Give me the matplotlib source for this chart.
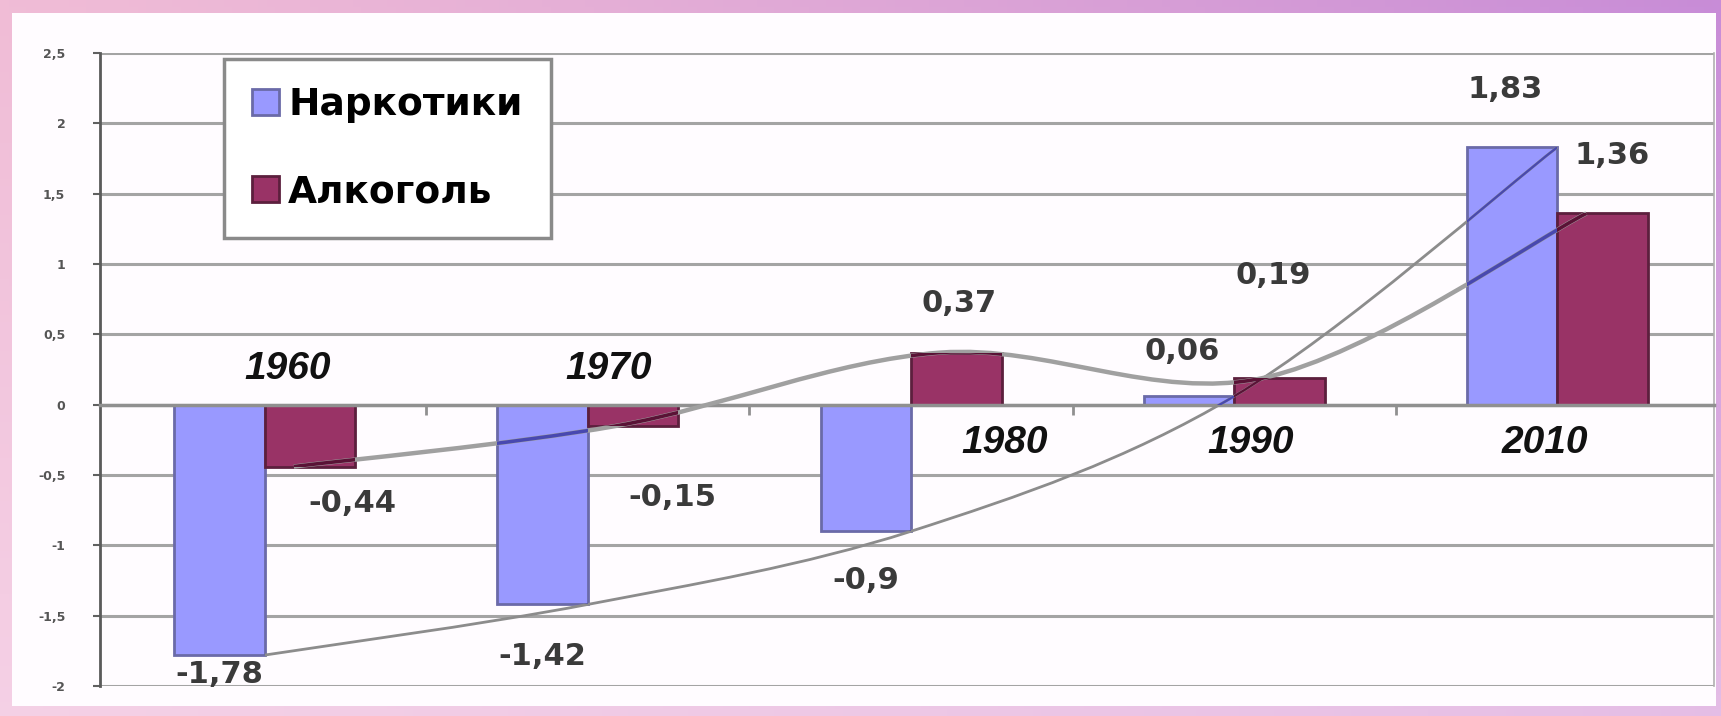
import numpy as np
import matplotlib
matplotlib.use('Agg')
import matplotlib.pyplot as plt
from matplotlib.path import Path
from matplotlib.patches import PathPatch, Rectangle

# data
years = ['1960', '1970', '1980', '1990', '2010']
narco = [-1.78, -1.42, -0.9, 0.06, 1.83]
alco = [-0.44, -0.15, 0.37, 0.19, 1.36]
series_names = ['Наркотики', 'Алкоголь']
yticks = [2.5, 2, 1.5, 1, 0.5, 0, -0.5, -1, -1.5, -2]
ytick_labels = ['2,5', '2', '1,5', '1', '0,5', '0', '-0,5', '-1', '-1,5', '-2']

# label placement (offsets from bar end, in data units)
narco_lbl_dx = [0.0, 0.0, 0.0, -0.02, -0.02]
narco_lbl_dy = [-0.14, -0.37, -0.35, 0.32, 0.41]
alco_lbl_dx = [0.13, 0.12, 0.01, -0.02, 0.03]
alco_lbl_dy = [-0.26, -0.51, 0.35, 0.73, 0.41]
year_x = [0.07, 1.065, 2.29, 3.05, 3.96]
year_y = [0.255, 0.255, -0.275, -0.275, -0.275]

W, H = 1721, 716
fig = plt.figure(figsize=(W / 100, H / 100), dpi=100)

# slide background gradient
bg = fig.add_axes([0, 0, 1, 1])
gx = np.linspace(0, 1, 200)[None, :]
gy = np.linspace(0, 1, 100)[:, None]
c_left = np.array([240, 188, 214]) / 255
c_right = np.array([200, 140, 215]) / 255
c_bottom = np.array([248, 222, 240]) / 255
t = gx ** 1.2
img = (1 - t)[..., None] * c_left + t[..., None] * c_right
img = img * (1 - gy[..., None] * 0.6) + c_bottom * gy[..., None] * 0.6
bg.imshow(img, extent=[0, 1, 0, 1], aspect='auto', origin='upper')
bg.add_patch(Rectangle((12 / W, 10 / H), (1716 - 12) / W, (703 - 10) / H,
                       facecolor='#fffcff', edgecolor='none'))
bg.set_xlim(0, 1)
bg.set_ylim(0, 1)
bg.axis('off')

ax = fig.add_axes([100 / W, 30 / H, 1614 / W, 633 / H])
ax.set_facecolor('none')
x = np.arange(len(years))
w = 0.28

bars_n = ax.bar(x - w / 2, narco, w, color='#9999ff', edgecolor='#6a6aa8',
                linewidth=2, zorder=2, label=series_names[0])
bars_a = ax.bar(x + w / 2, alco, w, color='#993366', edgecolor='#5c1f3d',
                linewidth=2, zorder=2, label=series_names[1])


def smooth_path(xs, ys):
    # Catmull-Rom through the points, written as cubic Bezier segments
    pts = np.column_stack([xs, ys]).astype(float)
    ext = np.vstack([pts[0], pts, pts[-1]])
    verts = [pts[0]]
    codes = [Path.MOVETO]
    for i in range(len(pts) - 1):
        p0, p1, p2, p3 = ext[i], ext[i + 1], ext[i + 2], ext[i + 3]
        verts += [p1 + (p2 - p0) / 6, p2 - (p3 - p1) / 6, p2]
        codes += [Path.CURVE4] * 3
    return Path(verts, codes)


for xs, vals, lw, col0 in [(x, narco, 2.0, '#8c8c8c'), (x + w / 2 - 0.05, alco, 3.2, '#a0a0a0')]:
    p = smooth_path(xs, vals)
    ax.add_patch(PathPatch(p, facecolor='none', edgecolor=col0, lw=lw, zorder=3))
    # darker where the curve runs over a bar
    for bars, col in [(bars_n, '#4848b0'), (bars_a, '#5a1236')]:
        for b in bars:
            pp = PathPatch(p, facecolor='none', edgecolor=col, lw=lw * 0.8, zorder=4)
            ax.add_patch(pp)
            pp.set_clip_path(b)

lbl_kw = dict(ha='center', va='center', fontsize=22, fontweight='bold',
              color='#3a3a3a', family='DejaVu Sans', zorder=6)
for i, v in enumerate(narco):
    ax.text(x[i] - w / 2 + narco_lbl_dx[i], v + narco_lbl_dy[i],
            str(v).replace('.', ','), **lbl_kw)
for i, v in enumerate(alco):
    ax.text(x[i] + w / 2 + alco_lbl_dx[i], v + alco_lbl_dy[i],
            str(v).replace('.', ','), **lbl_kw)

for i, yr in enumerate(years):
    ax.text(year_x[i], year_y[i], yr, ha='center', va='center', fontsize=28,
            fontweight='bold', fontstyle='italic', family='Liberation Sans',
            color='#111111', zorder=6)

ax.set_xlim(-0.51, 4.485)
ax.set_ylim(-2, 2.5)
ax.set_yticks(yticks, labels=ytick_labels)
ax.tick_params(axis='y', length=5, width=1.5, color='#606060', labelsize=9,
               labelcolor='#555555', pad=20)
for lab in ax.get_yticklabels():
    lab.set_fontweight('bold')
ax.set_xticks([0.5, 1.5, 2.5, 3.5], labels=[])
ax.tick_params(axis='x', direction='out', length=7, width=2, color='#909090')
ax.yaxis.grid(True, color='#a4a4a4', lw=2.2)
ax.set_axisbelow(True)

ax.spines['bottom'].set_position(('data', 0))
ax.spines['bottom'].set_color('#909090')
ax.spines['bottom'].set_linewidth(2.5)
ax.spines['left'].set_color('#5a5a5a')
ax.spines['left'].set_linewidth(2)
ax.spines['top'].set_visible(False)
ax.spines['right'].set_color('#b0b0b0')
ax.spines['right'].set_linewidth(1.2)

leg = ax.legend(loc='upper left', bbox_to_anchor=(0.077, 0.99), borderaxespad=0,
                prop={'family': 'DejaVu Sans', 'weight': 'bold', 'size': 27},
                handlelength=0.7, handleheight=0.7, handletextpad=0.25,
                labelspacing=1.35, borderpad=0.75, fancybox=False,
                framealpha=1, edgecolor='#8a8a8a')
leg.get_frame().set_linewidth(2.5)
leg.set_zorder(7)

fig.savefig('out.png', dpi=100)
